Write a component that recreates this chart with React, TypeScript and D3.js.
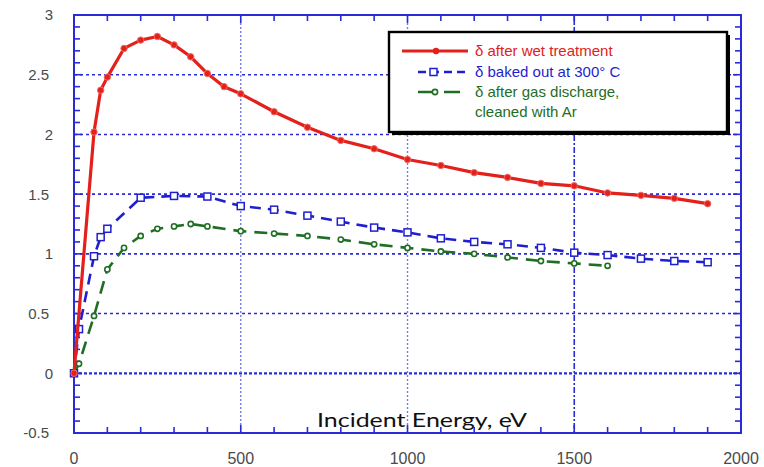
import React from 'react';
import * as d3 from 'd3';

// incident energy (eV) and secondary emission yield for each surface treatment
const energyWet = [0, 60, 80, 100, 150, 200, 250, 300, 350, 400, 450, 500, 600, 700, 800, 900, 1000, 1100, 1200, 1300, 1400, 1500, 1600, 1700, 1800, 1900];
const deltaWet = [0, 2.02, 2.37, 2.48, 2.72, 2.79, 2.82, 2.75, 2.65, 2.51, 2.4, 2.34, 2.19, 2.06, 1.95, 1.88, 1.79, 1.74, 1.68, 1.64, 1.59, 1.57, 1.51, 1.49, 1.465, 1.42];

const energyBaked = [0, 15, 60, 80, 100, 200, 300, 400, 500, 600, 700, 800, 900, 1000, 1100, 1200, 1300, 1400, 1500, 1600, 1700, 1800, 1900];
const deltaBaked = [0, 0.37, 0.98, 1.14, 1.21, 1.47, 1.485, 1.48, 1.4, 1.37, 1.32, 1.27, 1.22, 1.18, 1.13, 1.1, 1.08, 1.05, 1.01, 0.99, 0.96, 0.94, 0.93];

const energyAr = [0, 15, 60, 100, 150, 200, 250, 300, 350, 400, 500, 600, 700, 800, 900, 1000, 1100, 1200, 1300, 1400, 1500, 1600];
const deltaAr = [0, 0.08, 0.48, 0.87, 1.05, 1.15, 1.21, 1.23, 1.25, 1.23, 1.19, 1.17, 1.15, 1.12, 1.08, 1.05, 1.02, 1.0, 0.97, 0.94, 0.92, 0.9];

const xTicks = [0, 500, 1000, 1500, 2000];
const yTicks = [-0.5, 0, 0.5, 1, 1.5, 2, 2.5, 3];
const legendLabels = ['δ after wet treatment', 'δ baked out at 300° C', 'δ after gas discharge,', 'cleaned with Ar'];

const W = 764;
const H = 467;
const m = { left: 74, right: 741, top: 15, bottom: 433 };

const RED = '#e3201b';
const BLUE = '#1f1fcf';
const GREEN = '#1f6e25';
const FRAME = '#2a2ad6';

export default function App() {
  const x = d3.scaleLinear().domain([0, 2000]).range([m.left, m.right]);
  const y = d3.scaleLinear().domain([-0.5, 3]).range([m.bottom, m.top]);

  const line = d3.line<[number, number]>()
    .x(d => x(d[0]))
    .y(d => y(d[1]));

  const wet = energyWet.map((e, i) => [e, deltaWet[i]] as [number, number]);
  const baked = energyBaked.map((e, i) => [e, deltaBaked[i]] as [number, number]);
  const ar = energyAr.map((e, i) => [e, deltaAr[i]] as [number, number]);

  const minorX = d3.range(0, 2001, 100);
  const minorY = d3.range(-5, 31, 1).map(v => v / 10);

  const font = '"Liberation Sans", Arial, Helvetica, sans-serif';

  return (
    <div style={{ position: 'fixed', left: 0, top: 0 }}>
      <svg width={W} height={H} style={{ display: 'block', background: '#fff' }}>
        {/* grid */}
        {[0.5, 1, 1.5, 2, 2.5].map(v => (
          <line key={'gy' + v} x1={m.left} x2={m.right} y1={y(v)} y2={y(v)}
            stroke={FRAME} strokeWidth={1.6} strokeDasharray="3,3" />
        ))}
        <line x1={m.left} x2={m.right} y1={y(0)} y2={y(0)} stroke={FRAME} strokeWidth={2.2} strokeDasharray="3,2" />
        {[500, 1000].map(v => (
          <line key={'gx' + v} x1={x(v)} x2={x(v)} y1={m.top} y2={m.bottom}
            stroke="#7a7aec" strokeWidth={1.4} strokeDasharray="2,2" />
        ))}
        <line x1={x(1500)} x2={x(1500)} y1={m.top} y2={m.bottom} stroke={FRAME} strokeWidth={1.6} strokeDasharray="6,2,2,2" />

        {/* minor ticks */}
        {minorY.map(v => {
          const len = Math.abs(v * 2 - Math.round(v * 2)) < 1e-6 ? 8 : 6;
          return (
            <g key={'ty' + v}>
              <line x1={m.left} x2={m.left + len} y1={y(v)} y2={y(v)} stroke={FRAME} strokeWidth={1.6} />
              <line x1={m.right} x2={m.right - len} y1={y(v)} y2={y(v)} stroke={FRAME} strokeWidth={1.6} />
            </g>
          );
        })}
        {minorX.map(v => {
          const len = v % 500 === 0 ? 8 : 6;
          return (
            <g key={'tx' + v}>
              <line x1={x(v)} x2={x(v)} y1={m.bottom} y2={m.bottom - len} stroke={FRAME} strokeWidth={1.6} />
              <line x1={x(v)} x2={x(v)} y1={m.top} y2={m.top + len} stroke={FRAME} strokeWidth={1.6} />
            </g>
          );
        })}

        {/* frame */}
        <rect x={m.left} y={m.top} width={m.right - m.left} height={m.bottom - m.top}
          fill="none" stroke={FRAME} strokeWidth={2} />

        {/* series */}
        <path d={line(ar) || ''} fill="none" stroke={GREEN} strokeWidth={2.6} strokeDasharray="13,8" />
        {ar.map((d, i) => (
          <circle key={'ca' + i} cx={x(d[0])} cy={y(d[1])} r={2.6} fill="#fff" stroke={GREEN} strokeWidth={1.6} />
        ))}
        <path d={line(baked) || ''} fill="none" stroke={BLUE} strokeWidth={2.6} strokeDasharray="11,7" />
        {baked.map((d, i) => (
          <rect key={'cb' + i} x={x(d[0]) - 3.5} y={y(d[1]) - 3.5} width={7} height={7} fill="#fff" stroke={BLUE} strokeWidth={1.5} />
        ))}
        <path d={line(wet) || ''} fill="none" stroke={RED} strokeWidth={3.2} strokeLinejoin="round" />
        {wet.map((d, i) => (
          <circle key={'cw' + i} cx={x(d[0])} cy={y(d[1])} r={3.2} fill={RED} stroke="#f06a60" strokeWidth={1} />
        ))}

        {/* tick labels */}
        {yTicks.map(v => (
          <text key={'ly' + v} x={Number.isInteger(v) ? 53 : 49} y={y(v)} dy="0.36em" textAnchor="end"
            fontFamily={font} fontSize={15} fill="#4a4a4a">{v}</text>
        ))}
        {xTicks.map(v => (
          <text key={'lx' + v} x={x(v)} y={458} dy="0.36em" textAnchor="middle"
            fontFamily={font} fontSize={16} fill="#4a4a4a">{v}</text>
        ))}

        {/* axis title */}
        <text x={422} y={427} textAnchor="middle" fontFamily='Lato, "Noto Sans", sans-serif'
          fontSize={19} fill="#111" textLength={210} lengthAdjust="spacingAndGlyphs">Incident Energy, eV</text>

        {/* legend */}
        <g>
          <rect x={392} y={35} width={338} height={100} fill="#000" />
          <rect x={389} y={32} width={338} height={100} fill="#fff" stroke="#000" strokeWidth={2.4} />
          <line x1={402} x2={468} y1={51} y2={51} stroke={RED} strokeWidth={3.2} />
          <circle cx={436} cy={51} r={3.2} fill={RED} />
          <line x1={418} x2={466} y1={72} y2={72} stroke={BLUE} strokeWidth={2.6} strokeDasharray="8,5" />
          <rect x={430} y={68.5} width={7} height={7} fill="#fff" stroke={BLUE} strokeWidth={1.5} />
          <line x1={418} x2={460} y1={92} y2={92} stroke={GREEN} strokeWidth={2.6} strokeDasharray="18,8" />
          <circle cx={435} cy={92} r={2.6} fill="#fff" stroke={GREEN} strokeWidth={1.6} />
          <text x={475} y={51} dy="0.36em" fontFamily={font} fontSize={15} fill={RED}>{legendLabels[0]}</text>
          <text x={475} y={72} dy="0.36em" fontFamily={font} fontSize={15} fill={BLUE}>{legendLabels[1]}</text>
          <text x={475} y={92} dy="0.36em" fontFamily={font} fontSize={15} fill={GREEN}>{legendLabels[2]}</text>
          <text x={475} y={112} dy="0.36em" fontFamily={font} fontSize={15} fill={GREEN}>{legendLabels[3]}</text>
        </g>
      </svg>
    </div>
  );
}
